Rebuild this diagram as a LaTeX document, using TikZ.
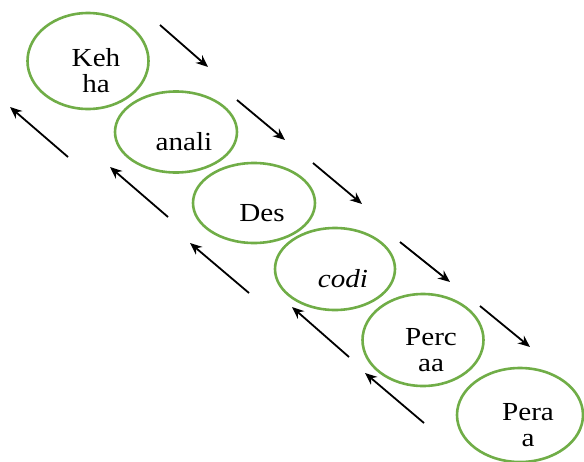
\documentclass[tikz,border=0pt]{standalone}
\usepackage{fontspec}
\setmainfont{Liberation Serif}[FakeStretch=1.12]
\usetikzlibrary{arrows.meta, shapes.geometric}
\definecolor{StepGreen}{HTML}{70AD47}
\definecolor{StepBlack}{HTML}{000000}
\tikzset{
    stepring/.style={
        draw=StepGreen,
        ellipse,
        line width=2.6pt,
        minimum width=#1,
        inner sep=0pt
    },
    stepring/.default=121pt,
    steptext/.style={
        font=\fontsize{26}{26}\selectfont,
        align=center,
        text=StepBlack,
        xshift=8pt,
        yshift=-10pt
    },
    arrow/.style={
        -{Stealth[length=12pt,width=10pt]},
        line width=1.8pt,
        StepBlack
    }
}
\begin{document}
\begin{tikzpicture}[x=1pt, y=-1pt]
    \useasboundingbox (0,0) rectangle (584,461);

    % phases
    \node[stepring, minimum height=96pt] (k1) at (88,61) {};
    \node[stepring=122pt, minimum height=81pt] (k2) at (176,132) {};
    \node[stepring=122pt, minimum height=80pt] (k3) at (254,203) {};
    \node[stepring=120pt, minimum height=82pt] (k4) at (335,269) {};
    \node[stepring, minimum height=92pt] (k5) at (423,340) {};
    \node[stepring=126pt, minimum height=94pt] (k6) at (520,415) {};

    \node[steptext] (t1) at (k1) {Keh\\ha};
    \node[steptext] (t2) at (k2) {anali};
    \node[steptext] (t3) at (k3) {Des};
    \node[steptext] (t4) at (k4) {\itshape codi};
    \node[steptext] (t5) at (k5) {Perc\\aa};
    \node[steptext] (t6) at (k6) {Pera\\a};

    % forward arrows
    \coordinate (d1a) at (160,25);  \coordinate (d1b) at (208,67);
    \coordinate (d2a) at (237,100); \coordinate (d2b) at (285,140);
    \coordinate (d3a) at (313,163); \coordinate (d3b) at (362,204);
    \coordinate (d4a) at (400,242); \coordinate (d4b) at (450,282);
    \coordinate (d5a) at (480,306); \coordinate (d5b) at (530,347);

    \draw[arrow] (d1a) -- (d1b);
    \draw[arrow] (d2a) -- (d2b);
    \draw[arrow] (d3a) -- (d3b);
    \draw[arrow] (d4a) -- (d4b);
    \draw[arrow] (d5a) -- (d5b);

    % backward arrows
    \coordinate (u1a) at (68,157);  \coordinate (u1b) at (10,107);
    \coordinate (u2a) at (168,217); \coordinate (u2b) at (110,167);
    \coordinate (u3a) at (249,293); \coordinate (u3b) at (190,243);
    \coordinate (u4a) at (349,357); \coordinate (u4b) at (292,307);
    \coordinate (u5a) at (424,423); \coordinate (u5b) at (365,373);

    \draw[arrow] (u1a) -- (u1b);
    \draw[arrow] (u2a) -- (u2b);
    \draw[arrow] (u3a) -- (u3b);
    \draw[arrow] (u4a) -- (u4b);
    \draw[arrow] (u5a) -- (u5b);
\end{tikzpicture}
\end{document}
